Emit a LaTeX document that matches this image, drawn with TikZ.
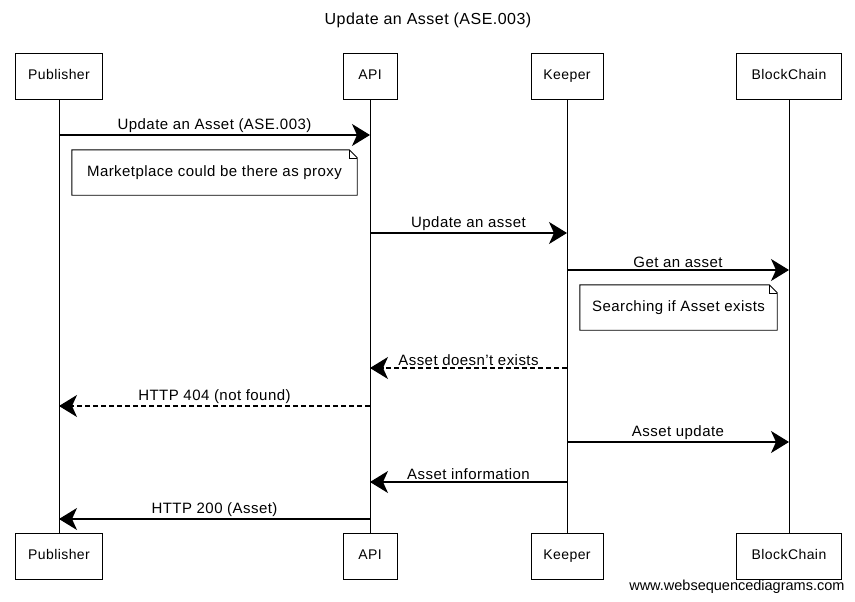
\documentclass[tikz,border=0pt]{standalone}
\usepackage{fontspec}
\setmainfont{Liberation Sans}[LetterSpace=3]
\newfontfamily\wsdfont{Liberation Sans}
\usetikzlibrary{arrows.meta,positioning}

\begin{document}
\begin{tikzpicture}[x=1pt,y=-1pt,
    actor/.style={draw,line width=0.9pt,minimum height=46pt,inner sep=0pt,text height=1.6ex,text depth=.4ex,font=\fontsize{14}{16}\selectfont},
    lifeline/.style={line width=0.8pt},
    msg/.style={line width=1.3pt,-{Stealth[length=18pt,width=22pt,inset=5pt]}},
    reply/.style={msg,dash pattern=on 5pt off 3pt},
    lbl/.style={font=\fontsize{15}{17}\selectfont,inner sep=2pt},
    note/.style={inner sep=0pt,minimum height=45pt,font=\fontsize{15}{17}\selectfont}]
  \useasboundingbox (0,0) rectangle (855,602);

  \node[font=\fontsize{16}{18}\selectfont] (title) at (428,20) {Update an Asset (ASE.003)};

  % participants, top and bottom
  \foreach \n/\t/\x/\w in {pub/Publisher/59/87,api/API/370/54,kee/Keeper/567/72,blo/BlockChain/789/105}{
    \node[actor,minimum width=\w pt] (\n-top) at (\x,76) {\t};
    \node[actor,minimum width=\w pt] (\n-bot) at (\x,556) {\t};
    \draw[lifeline] (\n-top) -- (\n-bot);
  }

  % messages
  \foreach \s/\d/\y/\t/\st [count=\i] in {
      pub/api/135/{Update an Asset (ASE.003)}/msg,
      api/kee/233/{Update an asset}/msg,
      kee/blo/270/{Get an asset}/msg,
      kee/api/368/{Asset doesn't exists}/reply,
      api/pub/406/{HTTP 404 (not found)}/reply,
      kee/blo/442/{Asset update}/msg,
      kee/api/482/{Asset information}/msg,
      api/pub/519/{HTTP 200 (Asset)}/msg}{
    \coordinate (m\i-from) at (\s-top |- 0,\y);
    \coordinate (m\i-to) at (\d-top |- 0,\y);
    \draw[\st] (m\i-from) -- node[lbl,above] (m\i-lbl) {\t} (m\i-to);
  }

  % notes
  \node[note,minimum width=285pt] (proxy) at (214.5,172.5) {Marketplace could be there as proxy};
  \node[note,minimum width=197pt] (search) at (678.5,307.5) {Searching if Asset exists};
  \foreach \n in {proxy,search}{
    \draw[line width=0.9pt] (\n.north west) -- ([xshift=-8pt]\n.north east) -- ([yshift=-8pt]\n.north east)
      -- (\n.south east) -- (\n.south west) -- cycle;
    \draw[line width=0.6pt] ([xshift=-8pt]\n.north east) -- ([xshift=-8pt,yshift=-8pt]\n.north east)
      -- ([yshift=-8pt]\n.north east);
  }

  \node[anchor=east,font=\wsdfont\fontsize{14.5}{16}\selectfont] (wsd) at (848,587) {www.websequencediagrams.com};
\end{tikzpicture}
\end{document}
